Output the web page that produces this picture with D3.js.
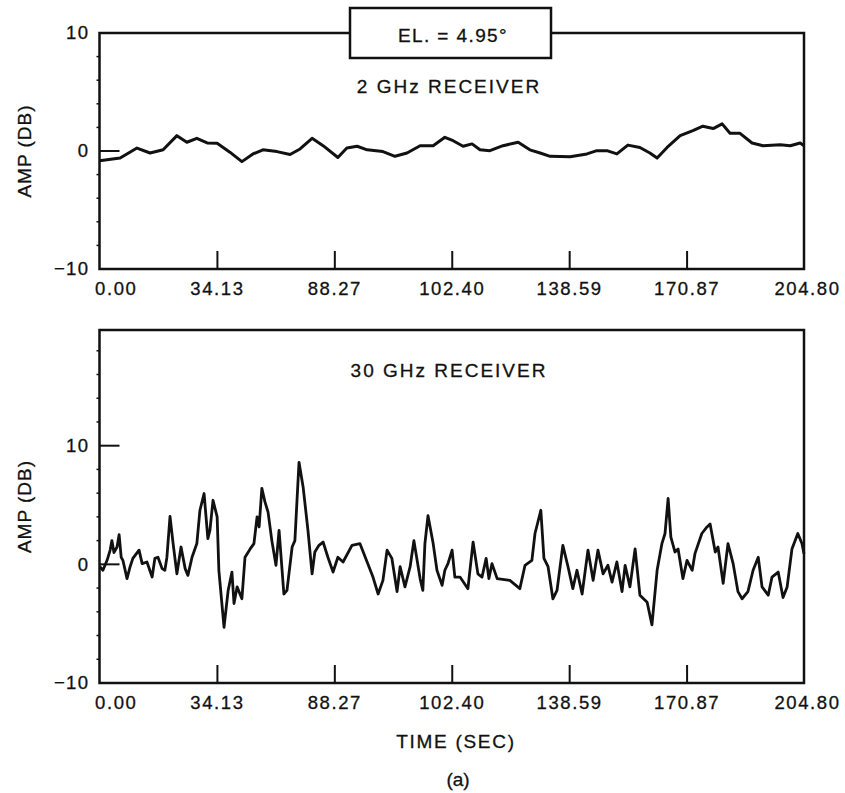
<!DOCTYPE html>
<html>
<head>
<meta charset="utf-8">
<script src="https://cdn.jsdelivr.net/npm/d3@7"></script>
<style>
  html, body { margin: 0; padding: 0; background: #fff; }
  svg { display: block; }
  text { font-family: "Liberation Sans", Arial, sans-serif; fill: #111; stroke: #111; stroke-width: 0.3px; }
</style>
</head>
<body>
<svg id="chart" width="845" height="793"></svg>
<script>
// ---- data ----
// Time axis: seven evenly spaced ticks over a 204.8 s record, labelled as printed
const tickLabels = ["0.00", "34.13", "88.27", "102.40", "138.59", "170.87", "204.80"];
const recordLength = 204.8;

// 2 GHz receiver amplitude (dB) vs time (s)
const t2 = [0, 6.0, 10.9, 14.7, 18.5, 22.5, 25.4, 28.3, 31.3, 34.2, 37.9, 41.4, 44.6, 47.5,
  51.6, 55.4, 58.3, 61.8, 65.0, 69.3, 71.9, 74.9, 77.8, 82.4, 85.9, 89.4, 93.2, 97.0, 100.4,
  102.8, 105.7, 108.3, 110.6, 113.5, 117.3, 121.7, 125.1, 128.1, 131.0, 136.8, 141.7, 144.6,
  147.5, 150.4, 153.6, 157.1, 160.0, 162.1, 165.0, 168.8, 172.5, 175.4, 178.4, 181.0, 183.3,
  186.2, 189.7, 192.9, 197.9, 200.8, 203.7, 204.8];
const a2 = [-0.82, -0.6, 0.25, -0.17, 0.1, 1.3, 0.74, 1.07, 0.68, 0.65, -0.1, -0.9, -0.25, 0.1,
  -0.05, -0.3, 0.17, 1.07, 0.45, -0.55, 0.25, 0.4, 0.1, -0.05, -0.45, -0.17, 0.45, 0.45, 1.16,
  0.87, 0.4, 0.6, 0.1, 0.03, 0.45, 0.74, 0.1, -0.17, -0.45, -0.48, -0.25, 0.03,
  0.03, -0.25, 0.5, 0.3, -0.17, -0.6, 0.3, 1.3, 1.72, 2.1, 1.9, 2.3, 1.5,
  1.5, 0.68, 0.45, 0.53, 0.45, 0.68, 0.45];

// 30 GHz receiver amplitude (dB) vs time (s)
const t30 = [0.1, 1.0, 2.2, 3.1, 3.6, 4.2, 5.1, 5.7, 6.3, 6.8, 8.0, 8.9, 9.7, 11.5, 12.4, 13.8,
  15.3, 16.1, 17.0, 18.2, 19.0, 19.6, 20.5, 21.4, 22.5, 23.7, 24.9, 25.7, 26.9, 28.3, 29.2,
  30.4, 31.5, 32.1, 33.0, 34.2, 34.7, 36.2, 37.4, 38.5, 39.1, 40.0, 41.4, 42.3, 43.8, 44.9,
  45.8, 46.4, 47.2, 48.1, 49.0, 50.1, 51.3, 52.2, 53.6, 54.5, 56.0, 56.8, 58.0, 59.2, 60.6,
  61.8, 62.6, 63.8, 65.0, 66.4, 67.9, 69.3, 70.8, 73.4, 75.7, 77.8, 79.5, 81.0, 82.4, 83.6,
  85.0, 86.5, 87.4, 88.8, 90.3, 91.4, 93.2, 94.0, 94.6, 95.5, 97.0, 98.1, 99.6, 100.4, 101.3,
  102.5, 103.3, 104.8, 107.1, 108.6, 110.0, 111.2, 112.4, 113.2, 114.1, 115.6, 119.3, 122.2,
  123.7, 125.7, 126.6, 128.3, 129.2, 130.4, 131.8, 133.0, 134.7, 136.2, 137.6, 138.8, 140.3,
  142.0, 143.5, 144.9, 146.4, 147.8, 149.0, 150.4, 151.9, 152.8, 154.2, 155.7, 157.1, 159.2,
  160.6, 162.1, 163.5, 164.4, 165.3, 166.1, 167.3, 168.2, 169.6, 170.8, 172.3, 173.1, 175.1,
  176.6, 177.5, 179.0, 179.8, 181.3, 182.7, 184.2, 185.6, 186.8, 188.5, 190.0, 191.5, 192.6,
  194.4, 195.5, 197.3, 198.7, 199.9, 201.3, 203.0, 204.2, 204.8];
const a30 = [-0.2, -0.5, 0.34, 1.2, 2.0, 1.0, 1.46, 2.5, 0.6, 0.34, -1.2, -0.2, 0.5, 1.2, 0.06, 0.2,
  -1.07, 0.5, 0.6, -0.36, -0.5, 0.6, 4.05, 1.75, -0.8, 1.46, -0.36, -0.93, 0.6, 1.75, 4.56,
  5.97, 2.17, 2.87, 5.4, 4.0, -0.5, -5.3, -2.2, -0.65, -3.3, -1.9, -2.9, 0.6, 1.3, 1.75,
  4.0, 3.15, 6.4, 5.26, 4.4, 2.0, -0.08, 2.87, -2.5, -2.2, 1.46, 2.0, 8.6, 6.5, 2.87,
  -0.8, 1.04, 1.6, 1.88, 0.6, -0.65, 0.6, 0.2, 1.6, 1.75, 0.2, -1.07, -2.5, -1.35, 1.2,
  0.5, -2.3, -0.2, -1.9, -0.2, 2.0, -1.2, -2.2, 1.75, 4.1, 1.75, -0.5, -1.77, -0.5, 0.06,
  1.2, -1.07, -1.07, -2.05, 1.88, -0.8, -1.07, 0.5, -1.2, 0.06, -1.2, -1.35, -2.05,
  -0.08, 0.34, 2.6, 4.56, 0.5, -0.2, -2.9, -2.2, 1.6, -0.2, -2.05, -0.5, -2.5,
  1.2, -1.35, 1.2, -0.8, -0.08, -1.5, 0.2, -2.3, -0.08, -1.9, 1.3, -2.6, -3.2,
  -5.1, -0.5, 1.75, 2.6, 5.55, 2.3, 1.04, 1.3, -1.2, 0.34, -0.5, 0.9, 2.6,
  3.15, 3.4, 1.04, 1.46, -1.6, 1.75, 0.06, -2.3, -2.9, -2.3, -0.5, 0.6, -1.9,
  -2.6, -1.07, -0.65, -2.8, -1.9, 1.3, 2.6, 1.75, 0.9];

// ---- layout ----
const svg = d3.select("#chart");
const left = 99.5, right = 804;
const x = d3.scaleLinear().domain([0, recordLength]).range([left, right]);
const tickValues = d3.range(tickLabels.length).map(i => i * recordLength / (tickLabels.length - 1));

const panels = [
  { title: "2 GHz RECEIVER", titleY: 93, top: 33, bottom: 269, domain: [-10, 10],
    yTicks: [-10, 0, 10], innerYTicks: [0], t: t2, a: a2, width: 3 },
  { title: "30 GHz RECEIVER", titleY: 377, top: 330, bottom: 683, domain: [-10, 19.75],
    yTicks: [-10, 0, 10], innerYTicks: [0, 10], t: t30, a: a30, width: 2.8 }
];

const ink = "#111";

panels.forEach(p => {
  const y = d3.scaleLinear().domain(p.domain).range([p.bottom, p.top]);
  const g = svg.append("g");

  // frame
  g.append("rect")
    .attr("x", left).attr("y", p.top)
    .attr("width", right - left).attr("height", p.bottom - p.top)
    .attr("fill", "none").attr("stroke", ink).attr("stroke-width", 2.5);

  // inner x ticks (pointing up from the bottom edge)
  const xAxis = d3.axisBottom(x).tickValues(tickValues)
    .tickFormat((d, i) => tickLabels[i]).tickSizeInner(-18).tickSizeOuter(0);
  const xa = g.append("g").attr("transform", `translate(0,${p.bottom})`).call(xAxis);
  xa.select(".domain").remove();
  xa.selectAll(".tick line").attr("stroke", ink).attr("stroke-width", 2)
    .filter((d, i) => i === 0 || i === tickValues.length - 1).remove();
  xa.selectAll(".tick text")
    .attr("font-size", 18.5).attr("letter-spacing", 1.6).attr("fill", ink)
    .attr("font-family", "Liberation Sans, Arial, sans-serif")
    .attr("dy", 0).attr("y", 26)
    .attr("text-anchor", (d, i) => i === 0 ? "start" : "middle")
    .attr("dx", (d, i) => i === 0 ? -5 : (i === tickValues.length - 1 ? 3 : 0));

  // y tick labels
  const yAxis = d3.axisLeft(y).tickValues(p.yTicks)
    .tickFormat(d => d < 0 ? "\u2212" + Math.abs(d) : String(d))
    .tickSize(0).tickPadding(10);
  const ya = g.append("g").attr("transform", `translate(${left},0)`).call(yAxis);
  ya.select(".domain").remove();
  ya.selectAll(".tick text")
    .attr("font-size", 18.5).attr("letter-spacing", 1.4).attr("fill", ink)
    .attr("font-family", "Liberation Sans, Arial, sans-serif");

  // short inward y ticks
  g.selectAll(".ytick").data(p.innerYTicks).join("line")
    .attr("x1", left).attr("x2", left + 20)
    .attr("y1", d => y(d)).attr("y2", d => y(d))
    .attr("stroke", ink).attr("stroke-width", 2);

  // small marks along the left edge
  const minor = d3.range(p.domain[0] + 2, p.domain[1], 2).filter(v => p.yTicks.indexOf(v) < 0);
  g.selectAll(".minor").data(minor).join("line")
    .attr("x1", left - 3).attr("x2", left)
    .attr("y1", d => y(d)).attr("y2", d => y(d))
    .attr("stroke", ink).attr("stroke-width", 1.5);

  // y axis title
  g.append("text")
    .attr("transform", `translate(31,${(p.top + p.bottom) / 2}) rotate(-90)`)
    .attr("text-anchor", "middle")
    .attr("font-size", 19).attr("letter-spacing", 1)
    .text("AMP (DB)");

  // panel title
  g.append("text")
    .attr("x", 449).attr("y", p.titleY)
    .attr("text-anchor", "middle")
    .attr("font-size", 19).attr("letter-spacing", 2)
    .text(p.title);

  // trace
  const pts = p.t.map((t, i) => [t, p.a[i]]);
  const line = d3.line().x(d => x(d[0])).y(d => y(d[1])).curve(d3.curveLinear);
  g.append("path").datum(pts)
    .attr("d", line)
    .attr("fill", "none").attr("stroke", ink)
    .attr("stroke-width", p.width).attr("stroke-linejoin", "round");
});

// elevation box sitting on the top edge
svg.append("rect")
  .attr("x", 350).attr("y", 8).attr("width", 201).attr("height", 50)
  .attr("fill", "#fff").attr("stroke", ink).attr("stroke-width", 2.5);
svg.append("text")
  .attr("x", 453).attr("y", 42).attr("text-anchor", "middle")
  .attr("font-size", 19).attr("letter-spacing", 1.4)
  .text("EL. = 4.95\u00b0");

// shared x axis title and caption
svg.append("text")
  .attr("x", 456).attr("y", 748).attr("text-anchor", "middle")
  .attr("font-size", 19).attr("letter-spacing", 1.7)
  .text("TIME (SEC)");
svg.append("text")
  .attr("x", 458).attr("y", 786).attr("text-anchor", "middle")
  .attr("font-size", 19)
  .text("(a)");
</script>
</body>
</html>
